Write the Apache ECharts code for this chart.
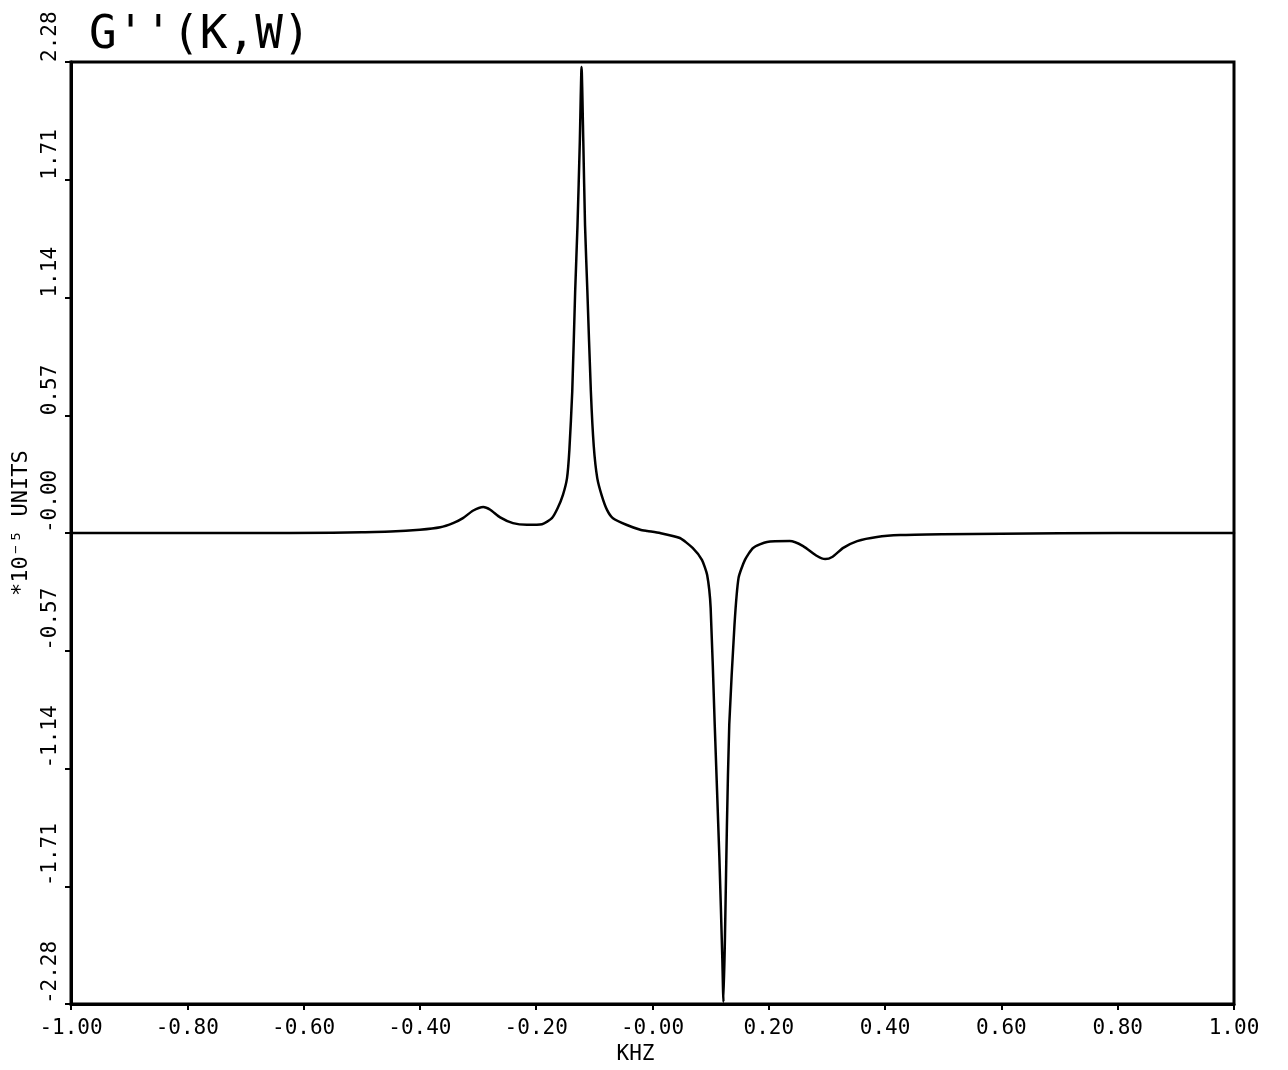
<!DOCTYPE html>
<html>
<head>
<meta charset="utf-8">
<script src="https://cdn.jsdelivr.net/npm/echarts@6/dist/echarts.min.js"></script>
<style>html,body{margin:0;padding:0;background:#fff;}#chart{width:1288px;height:1070px;}</style>
</head>
<body>
<div id="chart"></div>
<script>
const titleText = "G''(K,W)";
const xAxisName = 'KHZ';
const yAxisName = '*10\u207B\u2075 UNITS';
const xTickLabels = ['-1.00','-0.80','-0.60','-0.40','-0.20','-0.00','0.20','0.40','0.60','0.80','1.00'];
const yTickLabels = ['-2.28','-1.71','-1.14','-0.57','-0.00','0.57','1.14','1.71','2.28'];
const xValues = [-1.0,-0.7,-0.55,-0.5,-0.45,-0.400,-0.365,-0.343,-0.326,-0.309,-0.291,-0.279,-0.262,-0.240,-0.216,-0.190,-0.173,-0.163,-0.154,-0.147,-0.143,-0.138,-0.133,-0.129,-0.125,-0.122,-0.119,-0.116,-0.112,-0.106,-0.101,-0.095,-0.087,-0.078,-0.068,-0.044,-0.021,-0.009,0.013,0.047,0.069,0.085,0.094,0.100,0.107,0.115,0.120,0.122,0.125,0.128,0.132,0.141,0.148,0.159,0.173,0.197,0.236,0.259,0.283,0.297,0.309,0.328,0.352,0.386,0.426,0.5,0.6,0.8,1.0];
const yValues = [0,0,0.002,0.004,0.007,0.016,0.028,0.048,0.072,0.108,0.126,0.113,0.076,0.048,0.040,0.043,0.072,0.121,0.185,0.266,0.40,0.686,1.169,1.488,1.894,2.256,1.894,1.488,1.169,0.686,0.42,0.266,0.179,0.111,0.072,0.039,0.016,0.010,0.000,-0.024,-0.072,-0.130,-0.203,-0.362,-0.928,-1.570,-2.053,-2.27,-1.894,-1.411,-0.928,-0.444,-0.217,-0.130,-0.072,-0.043,-0.039,-0.063,-0.111,-0.126,-0.116,-0.072,-0.039,-0.019,-0.010,-0.006,-0.003,0,0];

const xMin = -1, xMax = 1, xStep = 0.2;
const yMin = -2.28, yMax = 2.28, yStep = 0.57;
const font = "'DejaVu Sans Mono', monospace";

const chart = echarts.init(document.getElementById('chart'));
chart.setOption({
  animation: false,
  backgroundColor: '#ffffff',
  title: {
    text: titleText, left: 84, top: 8,
    textStyle: {fontFamily: font, fontSize: 46, fontWeight: 'normal', color: '#000'}
  },
  grid: {left: 71, right: 54, top: 62, bottom: 65, show: true, borderColor: '#000', borderWidth: 3, backgroundColor: 'transparent'},
  xAxis: {
    type: 'value', min: xMin, max: xMax, interval: xStep,
    name: xAxisName, nameLocation: 'middle', nameGap: 38,
    nameTextStyle: {fontFamily: font, fontSize: 21, color: '#000', padding: [0, 34, 0, 0]},
    axisLine: {show: true, onZero: false, lineStyle: {color: '#000', width: 3}},
    axisTick: {show: true, length: 6, lineStyle: {color: '#000', width: 2}},
    splitLine: {show: false},
    axisLabel: {
      margin: 14, fontFamily: font, fontSize: 21, color: '#000',
      formatter: v => xTickLabels[Math.round((v - xMin) / xStep)]
    }
  },
  yAxis: {
    type: 'value', min: yMin, max: yMax, interval: yStep,
    name: yAxisName, nameLocation: 'middle', nameGap: 26, nameRotate: 90,
    nameTextStyle: {fontFamily: font, fontSize: 22, color: '#000', padding: [0, 0, 0, 20]},
    axisLine: {show: true, onZero: false, lineStyle: {color: '#000', width: 3}},
    axisTick: {show: true, length: 6, lineStyle: {color: '#000', width: 2}},
    splitLine: {show: false},
    axisLabel: {
      rotate: 90, margin: 10, align: 'left', verticalAlign: 'bottom',
      fontFamily: font, fontSize: 21, color: '#000',
      formatter: v => yTickLabels[Math.round((v - yMin) / yStep)]
    }
  },
  series: [{
    type: 'line',
    data: xValues.map((x, i) => [x, yValues[i]]),
    showSymbol: false,
    smooth: 0.2,
    lineStyle: {color: '#000', width: 2.5, join: 'round', cap: 'round'},
    clip: true
  }]
});
</script>
</body>
</html>
